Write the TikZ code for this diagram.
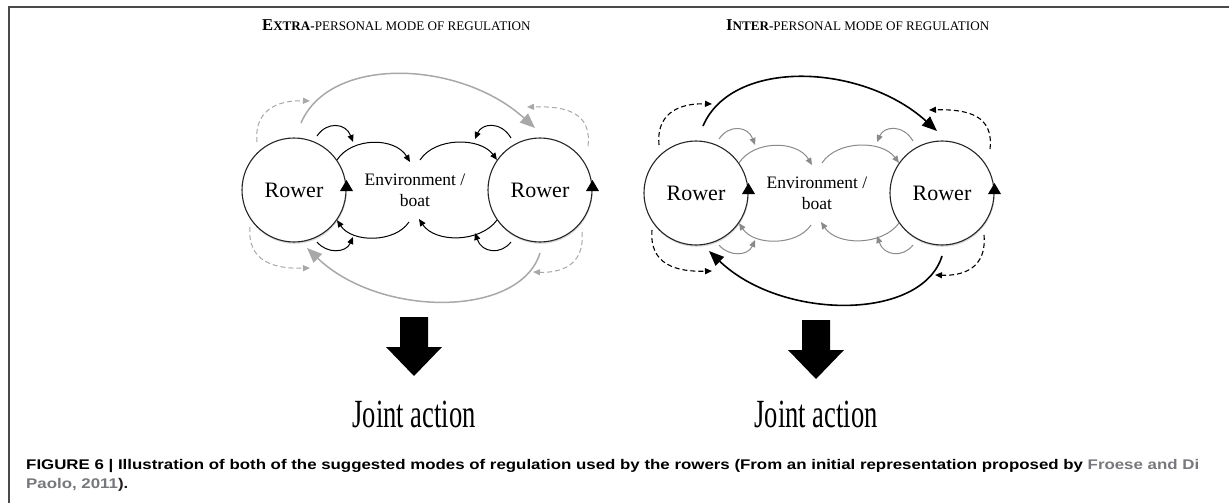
\documentclass[tikz,border=0pt]{standalone}
\usepackage{fontspec}
\setmainfont{Liberation Serif}
\newfontfamily\capsansfam{Liberation Sans}
\usetikzlibrary{arrows.meta,shadows}
\definecolor{lgray}{HTML}{A8A8A8}
\definecolor{mgray}{HTML}{8A8A8A}
\definecolor{framecol}{HTML}{4A4A4A}
\definecolor{citegray}{HTML}{77787B}
\definecolor{captext}{HTML}{231F20}
\newcommand\smc[1]{{\fontsize{13.1}{13.1}\selectfont #1}}
\newcommand\bigc[1]{{\fontsize{16.6}{16.6}\selectfont #1}}
\newcommand\capstyle{\capsansfam\bfseries\fontsize{14}{14}\selectfont}
\newsavebox\caponebox
\newlength\caponewd
\tikzset{
  rower/.style={circle, draw=black!85, line width=1.1pt, fill=white, minimum size=104pt, inner sep=0pt,
    font=\fontsize{22}{22}\selectfont,
    drop shadow={shadow xshift=0.6pt, shadow yshift=-1.8pt, opacity=0.3}},
  envtext/.style={align=center, font=\fontsize{17.5}{21}\selectfont, inner sep=0pt},
  smalltip/.style={-{Triangle[length=7pt,width=6pt]}},
  bigtip/.style={-{Triangle[length=15pt,width=12pt]}},
  leftinner/.style={draw=black, line width=1pt},
  leftouter/.style={draw=lgray, line width=1.5pt},
  leftdash/.style={draw=lgray, line width=1pt, dash pattern=on 5pt off 3pt},
  rightinner/.style={draw=mgray, line width=1pt},
  rightouter/.style={draw=black, line width=1.6pt},
  rightdash/.style={draw=black, line width=1.1pt, dash pattern=on 5pt off 3pt},
  titletext/.style={anchor=base west, inner sep=0pt},
  jointtext/.style={anchor=base, inner sep=0pt},
  captext/.style={anchor=base west, inner sep=0pt, text=captext}
}
% #1 prefix, #2 inner style, #3 outer style, #4 dashed style
\newcommand\rowpanel[4]{%
  \node[rower] (#1a) at (294,190) {Rower};
  \node[rower] (#1b) at (540,190) {Rower};
  \node[envtext] (#1e) at (415,190) {Environment /\\boat};
  \coordinate (#1ea) at (410,162);
  \coordinate (#1eb) at (409,222);
  \coordinate (#1ec) at (420,160);
  \coordinate (#1ed) at (419,219);
  % inner arcs
  \draw[#2,smalltip] (#1a.35) .. controls (352,137) and (395,137) .. (#1ea);
  \draw[#2,smalltip] (#1eb) .. controls (395,243) and (352,243) .. (#1a.-35);
  \draw[#2,smalltip] (#1ec) .. controls (435,137) and (480,137) .. (#1b.145);
  \draw[#2,smalltip] (#1b.-145) .. controls (480,243) and (435,243) .. (#1ed);
  % small loops
  \coordinate (#1s1) at (317,136); \coordinate (#1t1) at (353,142);
  \coordinate (#1s2) at (317,242); \coordinate (#1t2) at (353,237);
  \coordinate (#1s3) at (511,138); \coordinate (#1t3) at (475,139);
  \coordinate (#1s4) at (511,242); \coordinate (#1t4) at (475,233);
  \draw[#2,smalltip] (#1s1) .. controls (327,121) and (346,123) .. (#1t1);
  \draw[#2,smalltip] (#1s2) .. controls (327,254) and (346,253) .. (#1t2);
  \draw[#2,smalltip] (#1s3) .. controls (501,121) and (482,123) .. (#1t3);
  \draw[#2,smalltip] (#1s4) .. controls (501,255) and (482,253) .. (#1t4);
  % dashed loops
  \coordinate (#1d1) at (257,142); \coordinate (#1f1) at (310,101);
  \coordinate (#1d2) at (588,146); \coordinate (#1f2) at (527,107);
  \coordinate (#1d3) at (250,227); \coordinate (#1f3) at (310,268);
  \coordinate (#1d4) at (582,232); \coordinate (#1f4) at (533,272);
  \draw[#4,smalltip] (#1d1) .. controls (254,112) and (275,100) .. (#1f1);
  \draw[#4,smalltip] (#1d2) .. controls (592,112) and (565,106) .. (#1f2);
  \draw[#4,smalltip] (#1d3) .. controls (247,262) and (275,269) .. (#1f3);
  \draw[#4,smalltip] (#1d4) .. controls (585,266) and (560,273) .. (#1f4);
  % big arcs
  \coordinate (#1g1) at (301,123); \coordinate (#1h1) at (535,128);
  \coordinate (#1g2) at (540,253); \coordinate (#1h2) at (307,248);
  \draw[#3,bigtip] (#1g1) .. controls (330,55) and (460,60) .. (#1h1);
  \draw[#3,bigtip] (#1g2) .. controls (520,318) and (380,318) .. (#1h2);
  % arrowheads on the circles
  \fill (340,191) -- (353,191) -- (346.5,180) -- cycle;
  \fill (586,191) -- (599,191) -- (592.5,180) -- cycle;
  % big down arrow
  \fill (400,317) -- (428,317) -- (428,347) -- (442,347) -- (414,376) -- (386,347) -- (400,347) -- cycle;
}
\begin{document}
\sbox\caponebox{\capstyle FIGURE 6 | Illustration of both of the suggested modes of regulation used by the rowers (From an initial representation proposed by \textcolor{citegray}{Froese and Di}}%
\setlength\caponewd{\wd\caponebox}%
\pgfmathsetmacro\capfac{1173/\caponewd}%
\begin{tikzpicture}[x=1pt,y=-1pt]
\useasboundingbox (0,0) rectangle (1229,503);
% frame
\draw[framecol, line width=2pt] (1229,7) -- (9,7) -- (9,503);
% titles
\node[titletext] (t1) at (262,31) {{\bfseries\bigc{E}\smc{XTRA-}}\smc{PERSONAL MODE OF REGULATION}};
\node[titletext] (t2) at (726,31) {{\bfseries\bigc{I}\smc{NTER-}}\smc{PERSONAL MODE OF REGULATION}};
% panels
\rowpanel{L}{leftinner}{leftouter}{leftdash}
\begin{scope}[shift={(402,3)}]
\rowpanel{R}{rightinner}{rightouter}{rightdash}
\end{scope}
% joint action
\node[jointtext] (j1) at (414,427) {\resizebox{123pt}{\height}{\fontsize{40}{40}\selectfont Joint action}};
\node[jointtext] (j2) at (816,427) {\resizebox{123pt}{\height}{\fontsize{40}{40}\selectfont Joint action}};
% caption
\node[captext] (c1) at (26,469) {\scalebox{\capfac}[1]{\usebox\caponebox}};
\node[captext] (c2) at (26,488) {\scalebox{\capfac}[1]{\capstyle \textcolor{citegray}{Paolo, 2011}).}};
\end{tikzpicture}
\end{document}
